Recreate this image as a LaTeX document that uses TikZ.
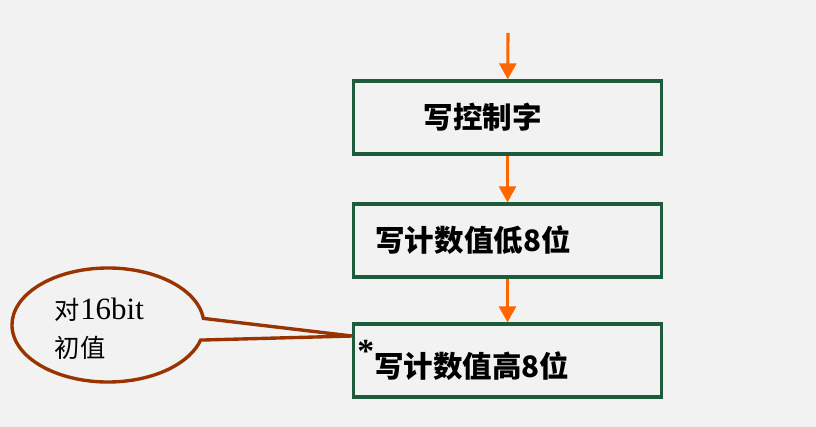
\documentclass[tikz,border=0pt]{standalone}
\usepackage{fontspec}
\setmainfont{Liberation Serif}
\newfontfamily\cjk{Noto Sans CJK SC}
\usetikzlibrary{arrows.meta,shapes.callouts}
\definecolor{boxgreen}{RGB}{30,90,60}
\definecolor{flow}{RGB}{255,102,0}
\definecolor{rust}{RGB}{153,51,0}
\definecolor{paper}{RGB}{242,242,242}

\begin{document}
\begin{tikzpicture}[x=0.025cm,y=-0.025cm,box/.style={draw=boxgreen,line width=2.2pt,fill=paper,minimum width=7.7cm,minimum height=1.825cm,text width=6.6cm,inner xsep=0.55cm,align=left,font=\cjk\bfseries\fontsize{21}{24}\selectfont},a/.style={-{Triangle[length=0.4cm,width=0.42cm]},draw=flow,line width=2.2pt},note/.style={ellipse callout,draw=rust,line width=2.4pt,fill=paper,minimum width=4.8cm,minimum height=2.85cm,callout pointer arc=22}]
\fill[paper] (0,0) rectangle (816,427);
\useasboundingbox (0,0) rectangle (816,427);
\coordinate (entry) at (508,33);
\node[box] (ctrl) at (507.5,117.5) {\hspace*{1.2cm}写控制字};
\node[box] (low) at (507.5,240.5) {写计数值低8位};
\node[box] (high) at (507.5,360.5) {\hspace*{-0.45cm}\raisebox{0.38cm}{\rmfamily\bfseries\fontsize{24}{24}\selectfont *}写计数值高8位};
\draw[a] (entry)--(ctrl); \draw[a] (ctrl)--(low); \draw[a] (low)--(high);
% callout on the 16-bit start value
\coordinate (tip) at (352,336);
\node[note,callout absolute pointer=(tip)] (note) at (108,325) {};
\node[anchor=west,align=left,font=\cjk\fontsize{18}{27}\selectfont] (notetext) at (50,329) {对{\rmfamily\fontsize{22}{27}\selectfont 16bit}\\初值};
\end{tikzpicture}
\end{document}
